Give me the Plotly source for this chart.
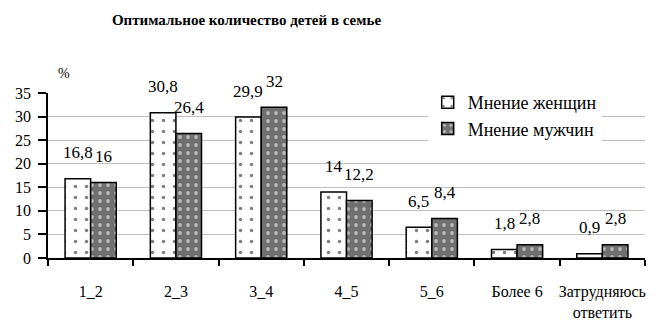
import plotly.graph_objects as go

categories = ["1_2", "2_3", "3_4", "4_5", "5_6", "Более 6", "Затрудняюсь<br>ответить"]
women = [16.8, 30.8, 29.9, 14, 6.5, 1.8, 0.9]
men = [16, 26.4, 32, 12.2, 8.4, 2.8, 2.8]
series_names = ["Мнение женщин", "Мнение мужчин"]
y_ticks = [0, 5, 10, 15, 20, 25, 30, 35]

FONT = "Liberation Serif"

fig = go.Figure()
fig.add_trace(go.Bar(
    x=categories, y=women, name=series_names[0],
    marker=dict(color="white", line=dict(color="black", width=1.5),
                pattern=dict(shape=".", bgcolor="white", fgcolor="black", size=11, solidity=0.08)),
))
fig.add_trace(go.Bar(
    x=categories, y=men, name=series_names[1],
    marker=dict(color="#707070", line=dict(color="black", width=1.5),
                pattern=dict(shape=".", bgcolor="#707070", fgcolor="white", size=8, solidity=0.18)),
))

def fmt(v):
    return ("%g" % v).replace(".", ",")

annotations = []
for c, w, m in zip(categories, women, men):
    annotations.append(dict(x=c, y=w, xref="x", yref="y", text=fmt(w), showarrow=False,
                            xshift=-12.8, yshift=26, font=dict(family=FONT, size=17, color="black")))
    annotations.append(dict(x=c, y=m, xref="x", yref="y", text=fmt(m), showarrow=False,
                            xshift=12.8, yshift=26, font=dict(family=FONT, size=17, color="black")))
annotations.append(dict(x=0, y=35, xref="paper", yref="y", text="%", showarrow=False,
                        xshift=8, yshift=20, font=dict(family=FONT, size=14, color="black")))

# page body has an 8px margin: figure is 648x312 placed at (8, 8)
fig.update_layout(
    width=648, height=312,
    margin=dict(l=40, r=11, t=85, b=62, autoexpand=False),
    paper_bgcolor="white", plot_bgcolor="white",
    barmode="group", bargap=0.4, bargroupgap=0,
    title=dict(text="<b>Оптимальное количество детей в семье</b>", x=0.368, xanchor="center",
               y=0.962, yanchor="middle", font=dict(family=FONT, size=15, color="black")),
    font=dict(family=FONT, size=17, color="black"),
    legend=dict(x=0.636, y=1.055, xanchor="left", yanchor="top", bgcolor="white",
                font=dict(family=FONT, size=18, color="black"), itemwidth=30, tracegroupgap=0),
    annotations=annotations,
    showlegend=True,
)
fig.update_xaxes(showline=True, linecolor="black", linewidth=1.5, ticks="outside", ticklen=6,
                 tickcolor="black", tickwidth=1.5, tickson="boundaries", showgrid=False,
                 tickangle=0, automargin=False,
                 ticklabelstandoff=18, tickfont=dict(family=FONT, size=16, color="black"))
fig.update_yaxes(range=[0, 35], tickvals=y_ticks, showline=True, linecolor="black", linewidth=1.5,
                 ticks="outside", ticklen=8, tickcolor="black", tickwidth=1.5, automargin=False,
                 ticklabelstandoff=4,
                 showgrid=True, gridcolor="#c0c0c0", gridwidth=1, zeroline=False,
                 tickfont=dict(family=FONT, size=16, color="black"))

fig.write_html("out.html")
